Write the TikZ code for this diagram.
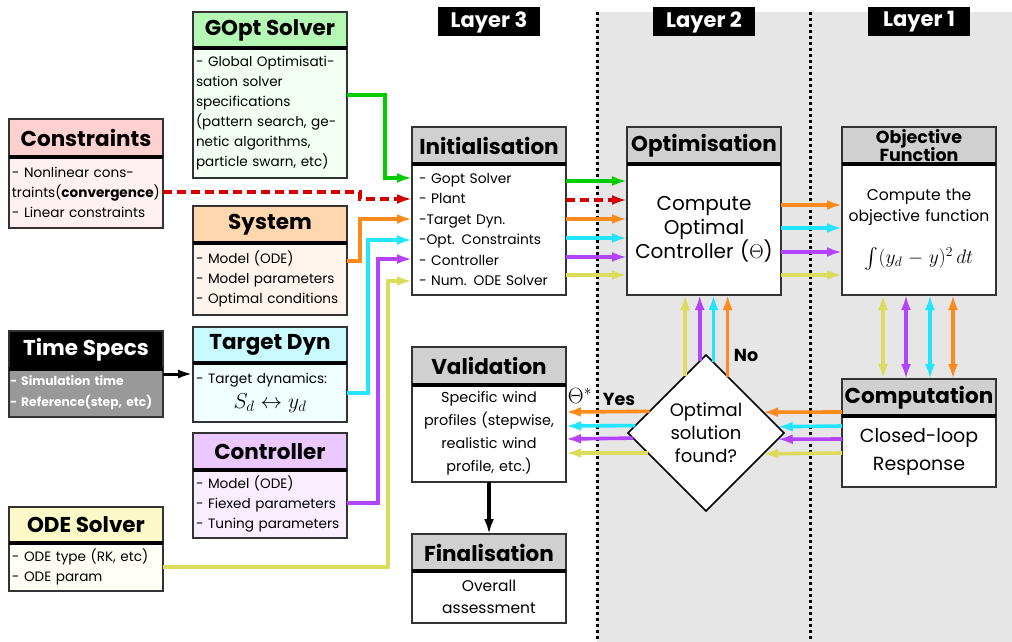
\RequirePackage{fix-cm}
\documentclass[tikz,border=0pt]{standalone}
\usepackage{exscale}
\usepackage[no-math]{fontspec}
\setmainfont{Poppins}
\usetikzlibrary{arrows.meta,shapes.geometric}

\newcommand{\fsz}[2]{\fontsize{#1}{#2}\selectfont}

\definecolor{cLine}{HTML}{333333}
\definecolor{cBack}{HTML}{E6E6E6}
\definecolor{cGrayH}{HTML}{D0D0D0}
\definecolor{cTimeB}{HTML}{999999}
\definecolor{consH}{HTML}{FFD0D0}
\definecolor{consB}{HTML}{FFF1F1}
\definecolor{goptH}{HTML}{B5F7B5}
\definecolor{goptB}{HTML}{F2FFF2}
\definecolor{sysH}{HTML}{FFD7AE}
\definecolor{sysB}{HTML}{FFF5EE}
\definecolor{tdynH}{HTML}{C8FAFF}
\definecolor{tdynB}{HTML}{F0FEFF}
\definecolor{ctrlH}{HTML}{EBC8FF}
\definecolor{ctrlB}{HTML}{F9EEFF}
\definecolor{odeH}{HTML}{FCF9C8}
\definecolor{odeB}{HTML}{FFFEF6}
\definecolor{cGreen}{HTML}{00CC00}
\definecolor{cRed}{HTML}{D40000}
\definecolor{cOrange}{HTML}{FF8A1C}
\definecolor{cCyan}{HTML}{22E6FF}
\definecolor{cPurple}{HTML}{B443FF}
\definecolor{cYellow}{HTML}{DCDC5C}

\begin{document}
\begin{tikzpicture}[x=1pt, y=-1pt,
  head/.style={draw=cLine, line width=1.6pt, minimum width=154pt, anchor=north west,
    inner sep=0pt, outer sep=0pt, align=center, font=\fsz{21.5}{23}\bfseries},
  body/.style={draw=cLine, line width=1.6pt, minimum width=154pt, text width=148pt,
    anchor=north west, inner xsep=3pt, inner ysep=0pt, outer sep=0pt, align=left,
    font=\fsz{13.6}{20}},
  cbody/.style={body, fill=white, align=center},
  sep/.style={line width=4pt},
  flow/.style={line width=3.6pt, draw=#1, -{Latex[length=15pt,width=10pt]}},
  bothflow/.style={line width=3.6pt, draw=#1,
    {Latex[length=15pt,width=10pt]}-{Latex[length=15pt,width=10pt]}},
  layer/.style={fill=black, text=white, minimum width=102pt, minimum height=29pt,
    inner sep=0pt, font=\fsz{21}{22}\bfseries},
  divider/.style={line width=3pt, dash pattern=on 3pt off 3pt},
  mark label/.style={inner sep=0pt, font=\fsz{17.5}{20}\bfseries},
]
\useasboundingbox (0,0) rectangle (1012,642);

%% layers 2 and 1 (gray) with dotted borders
\fill[cBack] (597,12) rectangle (1012,642);
\draw[divider] (597,12) -- (597,642);
\draw[divider] (810,12) -- (810,642);

\node[layer] (lay3) at (489,22) {Layer 3};
\node[layer] (lay2) at (704,22) {Layer 2};
\node[layer] (lay1) at (919,22) {Layer 1};

%% input boxes
\node[head, fill=consH, minimum height=38pt] (cons-h) at (9,119) {Constraints};
\node[body, fill=consB, minimum height=71pt] (cons) at (cons-h.south west)
  {- Nonlinear cons-\\traints(\textbf{convergence})\\- Linear constraints};

\node[head, fill=goptH, minimum height=36pt] (gopt-h) at (193,12) {GOpt Solver};
\node[body, fill=goptB, minimum height=130pt] (gopt) at (gopt-h.south west)
  {- Global Optimisati-\\sation solver\\specifications\\(pattern search, ge-\\netic algorithms,\\particle swarn, etc)};

\node[head, fill=sysH, minimum height=37pt] (sys-h) at (193,206) {System};
\node[body, fill=sysB, minimum height=72pt] (sys) at (sys-h.south west)
  {- Model (ODE)\\- Model parameters\\- Optimal conditions};

\node[head, fill=tdynH, minimum height=36pt] (tdyn-h) at (193,327) {Target Dyn};
\node[body, fill=tdynB, minimum height=59pt] (tdyn) at (tdyn-h.south west)
  {- Target dynamics:\\[5pt]\makebox[148pt]{\fsz{21.5}{23}$S_d\leftrightarrow y_d$}};

\node[head, fill=ctrlH, minimum height=37pt] (ctrl-h) at (193,433) {Controller};
\node[body, fill=ctrlB, minimum height=68pt] (ctrl) at (ctrl-h.south west)
  {- Model (ODE)\\- Fiexed parameters\\- Tuning parameters};

\node[head, fill=black, text=white, minimum height=38pt] (tspec-h) at (9,331) {Time Specs};
\node[body, fill=cTimeB, text=white, minimum height=48pt, text width=152pt, inner xsep=1pt,
  font=\fsz{12.3}{21}\bfseries] (tspec) at (tspec-h.south west)
  {- Simulation time\\- Reference(step, etc)};

\node[head, fill=odeH, minimum height=36pt] (ode-h) at (9,507) {ODE Solver};
\node[body, fill=odeB, minimum height=48pt] (ode) at (ode-h.south west)
  {- ODE type (RK, etc)\\- ODE param};

%% layer 3
\node[head, fill=cGrayH, minimum height=37pt] (init-h) at (412,127) {Initialisation};
\node[body, fill=white, minimum height=131pt, inner xsep=7pt, text width=140pt,
  font=\fsz{13.8}{20.4}] (init) at (init-h.south west)
  {- Gopt Solver\\- Plant\\-Target Dyn.\\-Opt. Constraints\\- Controller\\- Num. ODE Solver};

\node[head, fill=cGrayH, minimum height=38pt] (val-h) at (412,347) {Validation};
\node[cbody, minimum height=97pt, font=\fsz{14.4}{23}] (val) at (val-h.south west)
  {Specific wind\\profiles (stepwise,\\realistic wind\\profile, etc.)};

\node[head, fill=cGrayH, minimum height=37pt] (fin-h) at (412,534) {Finalisation};
\node[cbody, minimum height=52pt, font=\fsz{15.5}{22.5}] (fin) at (fin-h.south west)
  {Overall\\assessment};

%% layer 2
\node[head, fill=cGrayH, minimum height=37pt] (opt-h) at (627,127) {Optimisation};
\node[cbody, minimum height=131pt, font=\fsz{20}{23.5}] (opt) at (opt-h.south west)
  {Compute\\Optimal\\Controller ($\Theta$)};

\node[diamond, draw=black, line width=1.6pt, fill=white, minimum width=156pt,
  minimum height=156pt, inner sep=0pt, outer sep=0pt, align=center,
  font=\fsz{18}{23}] (dec) at (706,433) {Optimal\\solution\\found?};

%% layer 1
\node[head, fill=cGrayH, minimum height=37pt, font=\fsz{17.5}{14.5}\bfseries] (obj-h) at (842,127)
  {Objective\\[-1pt]Function};
\node[cbody, minimum height=131pt, font=\fsz{15.6}{21}] (obj) at (obj-h.south west)
  {Compute the\\objective function\\[21pt]\fsz{19.5}{22}$\int (y_d-y)^2\,dt$};

\node[head, fill=cGrayH, minimum height=37pt] (comp-h) at (842,379) {Computation};
\node[cbody, minimum height=71pt, font=\fsz{19}{28}] (comp) at (comp-h.south west)
  {Closed-loop\\Response};

% thick line under every title
\foreach \n in {cons,gopt,sys,tdyn,ctrl,tspec,ode,init,val,fin,opt,obj,comp}
  \draw[sep] (\n-h.south west) -- (\n-h.south east);

%% inputs into initialisation
\draw[flow=cGreen] (gopt.east |- 0,95) -- ++(38,0) |- (init.west |- 0,178);
\draw[flow=cRed, dash pattern=on 9pt off 5pt] (cons.east |- 0,192) -- ++(197,0) |- (init.west |- 0,199);
\draw[flow=cOrange] (sys.east |- 0,261) -- ++(13,0) |- (init.west |- 0,219);
\draw[flow=cCyan] (tdyn.east |- 0,393) -- ++(21,0) |- (init.west |- 0,240);
\draw[flow=cPurple] (ctrl.east |- 0,503) -- ++(31,0) |- (init.west |- 0,259);
\draw[flow=cYellow] (ode.east |- 0,567) -- ++(225,0) |- (init.west |- 0,281);
\draw[line width=3pt, -{Latex[length=15pt,width=9pt]}] (tspec.east |- 0,374) -- (tdyn.west |- 0,374);

%% initialisation -> optimisation
\draw[flow=cGreen] (init.east |- 0,181) -- (opt.west |- 0,181);
\draw[flow=cRed, dash pattern=on 9pt off 5pt] (init.east |- 0,200) -- (opt.west |- 0,200);
\foreach \c/\yy in {cOrange/219,cCyan/238,cPurple/257,cYellow/275}
  \draw[flow=\c] (init.east |- 0,\yy) -- (opt.west |- 0,\yy);

%% optimisation -> objective function
\foreach \c/\yy in {cOrange/205,cCyan/228,cPurple/252,cYellow/275}
  \draw[flow=\c] (opt.east |- 0,\yy) -- (obj.west |- 0,\yy);

%% objective function <-> computation
\foreach \c/\xx in {cYellow/883,cPurple/906,cCyan/930,cOrange/953}
  \draw[bothflow=\c] (obj.south -| \xx,0) -- (comp-h.north -| \xx,0);

%% computation -> decision -> validation
\foreach \c/\yy/\ar/\al in {cOrange/412/20.22/159.78,cCyan/426/5.63/174.37,
    cPurple/439/355.24/184.76,cYellow/453/340.97/199.03}
  {
  \draw[flow=\c] (comp.west |- 0,\yy) -- (dec.\ar);
  \draw[flow=\c] (dec.\al) -- (val.east |- 0,\yy);
  }

%% decision -> optimisation (no)
\foreach \c/\a in {cYellow/110.22,cPurple/95.63,cCyan/84.37,cOrange/69.78}
  \draw[flow=\c] (dec.\a) -- (dec.\a |- opt.south);

\draw[line width=4pt, -{Latex[length=15pt,width=10pt]}] (val.south) -- (fin-h.north);

\node[mark label] (no) at (746,355) {No};
\node[mark label] (yes) at (619,399) {Yes};
\node[inner sep=0pt, font=\fsz{22}{24}] (theta) at (580,396) {$\Theta^*$};

\end{tikzpicture}
\end{document}
